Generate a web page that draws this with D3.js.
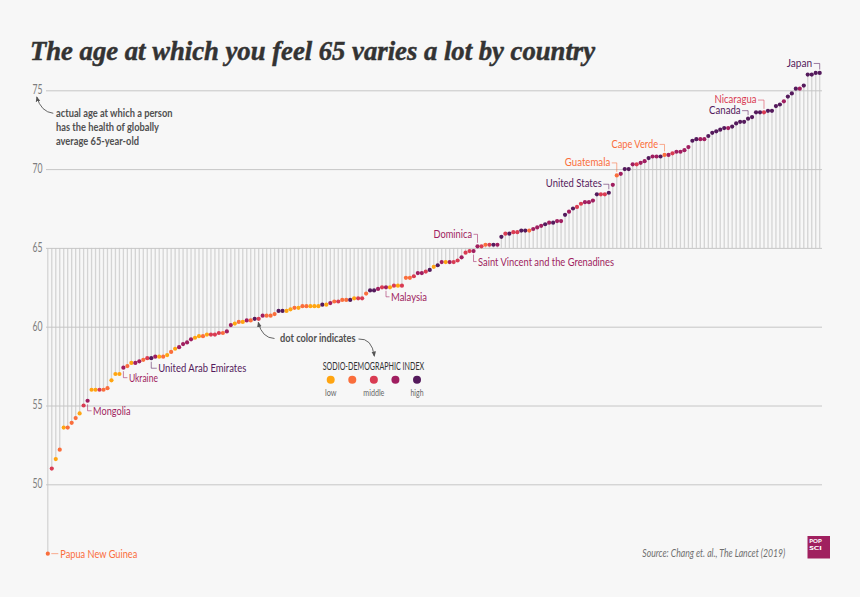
<!DOCTYPE html>
<html>
<head>
<meta charset="utf-8">
<script src="https://cdn.jsdelivr.net/npm/d3@7"></script>
<style>
  html, body { margin: 0; padding: 0; background: #f7f7f7; }
  svg { display: block; }
  text { font-family: Lato, sans-serif; }
</style>
</head>
<body>
<div id="chart"></div>
<script>
// healthy-age equivalent of a 65 year old, countries sorted low to high
const ages = [
  45.6, 51.0, 51.6, 52.2, 53.6, 53.6, 53.9, 54.2, 54.5, 55.0,
  55.3, 56.0, 56.0, 56.0, 56.0, 56.1, 56.6, 57.0, 57.0, 57.4,
  57.5, 57.7, 57.7, 57.8, 57.9, 58.0, 58.0, 58.1, 58.1, 58.1,
  58.2, 58.4, 58.6, 58.7, 58.9, 59.0, 59.2, 59.3, 59.4, 59.4,
  59.5, 59.5, 59.5, 59.6, 59.6, 59.7, 60.1, 60.2, 60.3, 60.3,
  60.4, 60.4, 60.5, 60.5, 60.7, 60.7, 60.7, 60.8, 61.0, 61.0,
  61.0, 61.1, 61.2, 61.2, 61.3, 61.3, 61.3, 61.3, 61.3, 61.4,
  61.4, 61.5, 61.6, 61.6, 61.7, 61.7, 61.7, 61.8, 61.8, 61.8,
  62.1, 62.3, 62.3, 62.4, 62.5, 62.5, 62.5, 62.6, 62.6, 62.6,
  63.1, 63.1, 63.2, 63.4, 63.4, 63.5, 63.6, 63.8, 63.9, 64.1,
  64.1, 64.1, 64.1, 64.2, 64.4, 64.7, 64.8, 64.8, 65.1, 65.1,
  65.2, 65.2, 65.2, 65.2, 65.7, 65.9, 65.9, 66.0, 66.0, 66.1,
  66.1, 66.1, 66.2, 66.3, 66.4, 66.5, 66.6, 66.6, 66.7, 66.7,
  67.1, 67.3, 67.5, 67.6, 67.8, 67.9, 67.9, 68.0, 68.4, 68.4,
  68.4, 68.5, 69.0, 69.6, 69.7, 70.0, 70.0, 70.3, 70.3, 70.4,
  70.5, 70.7, 70.8, 70.8, 70.8, 70.9, 70.9, 71.0, 71.1, 71.1,
  71.2, 71.4, 71.8, 71.9, 71.9, 71.9, 72.1, 72.3, 72.4, 72.5,
  72.6, 72.6, 72.7, 72.9, 73.0, 73.0, 73.2, 73.3, 73.6, 73.6,
  73.6, 73.7, 73.7, 74.0, 74.1, 74.3, 74.6, 74.8, 75.1, 75.1,
  75.3, 76.0, 76.0, 76.1, 76.1
];

// sodio-demographic level of each country, 1 = low, 5 = high
const sdi = [
  2, 3, 1, 2, 1, 2, 2, 2, 1, 3,
  4, 1, 1, 3, 2, 2, 1, 1, 1, 4,
  2, 1, 4, 4, 2, 3, 5, 4, 1, 2,
  1, 2, 1, 4, 4, 4, 4, 1, 1, 2,
  1, 3, 3, 3, 2, 4, 4, 1, 2, 1,
  4, 2, 5, 3, 4, 2, 2, 2, 5, 5,
  1, 1, 2, 1, 2, 2, 1, 1, 1, 5,
  1, 4, 2, 3, 2, 2, 5, 1, 3, 3,
  2, 5, 5, 4, 3, 4, 1, 3, 1, 3,
  2, 2, 3, 4, 4, 3, 5, 1, 5, 4,
  1, 4, 3, 3, 4, 3, 3, 4, 4, 3,
  2, 3, 5, 4, 5, 3, 5, 3, 3, 5,
  5, 2, 4, 4, 4, 5, 4, 5, 4, 4,
  5, 4, 5, 3, 3, 4, 4, 4, 5, 3,
  3, 5, 4, 2, 4, 5, 5, 4, 3, 4,
  4, 5, 4, 4, 5, 2, 4, 3, 4, 4,
  4, 4, 5, 5, 4, 4, 5, 5, 5, 5,
  5, 4, 5, 5, 5, 5, 5, 5, 5, 5,
  3, 5, 5, 5, 5, 4, 5, 5, 5, 4,
  5, 5, 5, 5, 5
];

const yTicks = [50, 55, 60, 65, 70, 75];
const sdiLabels = ["low", "", "middle", "", "high"];
const countries = ["Papua New Guinea", "Mongolia", "Ukraine", "United Arab Emirates", "Malaysia",
  "Saint Vincent and the Grenadines", "Dominica", "United States", "Guatemala", "Cape Verde",
  "Canada", "Nicaragua", "Japan"];
const countryRanks = [0, 10, 19, 26, 85, 107, 108, 141, 143, 155, 176, 180, 194];

const colors = ["#ffa511", "#fa6e3c", "#d93b52", "#a01e60", "#541a5c"];

const width = 860, height = 597;
const x = d3.scaleLinear().domain([0, ages.length - 1]).range([47.8, 819.7]);
const y = d3.scaleLinear().domain([50, 75]).range([484.3, 90.3]);
const sdiColor = d3.scaleOrdinal().domain([1, 2, 3, 4, 5]).range(colors);

const svg = d3.select("#chart").append("svg")
  .attr("width", width)
  .attr("height", height);

svg.append("rect")
  .attr("width", width)
  .attr("height", height)
  .attr("fill", "#f7f7f7");

// text squeezed to a known width, the original face is a condensed one
function fitText(parent, str, px, py, len, size, color, anchor) {
  return parent.append("text")
    .attr("x", px)
    .attr("y", py)
    .attr("dy", "0.35em")
    .attr("text-anchor", anchor || "start")
    .attr("font-size", size)
    .attr("fill", color)
    .attr("textLength", len)
    .attr("lengthAdjust", "spacingAndGlyphs")
    .text(str);
}

svg.append("text")
  .attr("x", 30)
  .attr("y", 60)
  .style("font-family", "'Liberation Serif', serif")
  .attr("font-size", 28)
  .attr("font-weight", 700)
  .attr("font-style", "italic")
  .attr("fill", "#333")
  .attr("stroke", "#333")
  .attr("stroke-width", 0.5)
  .attr("textLength", 565)
  .attr("lengthAdjust", "spacingAndGlyphs")
  .text("The age at which you feel 65 varies a lot by country");

// stems from the 65 line to each dot
svg.append("g")
  .selectAll("line")
  .data(ages)
  .enter()
  .append("line")
  .attr("x1", (d, i) => x(i))
  .attr("x2", (d, i) => x(i))
  .attr("y1", y(65))
  .attr("y2", d => y(d))
  .attr("stroke", "#d4d4d4")
  .attr("stroke-width", 1.3);

const axis = svg.append("g")
  .attr("transform", "translate(46,0)")
  .call(d3.axisLeft(y).tickValues(yTicks).tickSize(-776).tickPadding(3.5));

axis.select(".domain").remove();
axis.selectAll(".tick line")
  .attr("stroke", "#c6c6c6")
  .attr("stroke-width", 1);
axis.selectAll(".tick text")
  .attr("font-size", 13.5)
  .attr("fill", "#7d7d7d")
  .attr("dy", "0.25em")
  .attr("textLength", 10)
  .attr("lengthAdjust", "spacingAndGlyphs");

svg.append("g")
  .selectAll("circle")
  .data(ages)
  .enter()
  .append("circle")
  .attr("cx", (d, i) => x(i))
  .attr("cy", d => y(d))
  .attr("r", 2.1)
  .attr("fill", (d, i) => sdiColor(sdi[i]));

// country labels: side says if the leader leaves the dot upward or downward
const labelSide = ["flat", "below", "below", "below", "below", "below", "above", "above", "above", "above", "above", "above", "above"];
const labelRise = [0, 6.5, 6.5, 6.5, 6, 7, 8.5, 5, 9, 7, 4.5, 8.8, 6];
const labelWidth = [77, 37.5, 29, 88, 36, 136, 38.5, 56, 45.5, 46.5, 31.5, 42, 25.5];
const leaderLen = [7, 4, 4, 5.5, 3.5, 3, 4, 5.5, 5, 5, 6, 6, 6];

const labels = svg.append("g");
countries.forEach((name, k) => {
  const rank = countryRanks[k];
  const px = x(rank), py = y(ages[rank]);
  const color = sdiColor(sdi[rank]);
  let path, ly;
  if (labelSide[k] === "flat") {
    ly = py;
    path = "M" + (px + 3.5) + "," + ly + "H" + (px + 3.5 + leaderLen[k]);
    fitText(labels, name, px + 12.5, ly, labelWidth[k], 12, color);
  } else if (labelSide[k] === "below") {
    ly = py + 3.5 + labelRise[k];
    path = "M" + px + "," + (py + 3.5) + "V" + ly + "H" + (px + leaderLen[k]);
    fitText(labels, name, px + leaderLen[k] + 1.5, ly, labelWidth[k], 12, color);
  } else {
    ly = py - 3.5 - labelRise[k];
    path = "M" + px + "," + (py - 3.5) + "V" + ly + "H" + (px - leaderLen[k]);
    fitText(labels, name, px - leaderLen[k] - 1.5, ly - 1, labelWidth[k], 12, color, "end");
  }
  labels.append("path")
    .attr("d", path)
    .attr("fill", "none")
    .attr("stroke", color)
    .attr("stroke-width", 0.7)
    .attr("opacity", 0.8);
});

// notes and their arrows
svg.append("defs").append("marker")
  .attr("id", "head")
  .attr("viewBox", "0 0 6 6")
  .attr("refX", 5)
  .attr("refY", 3)
  .attr("markerWidth", 6)
  .attr("markerHeight", 6)
  .attr("orient", "auto")
  .append("path")
  .attr("d", "M0,0.5L6,3L0,5.5Z")
  .attr("fill", "#555");

function arrow(x0, y0, cx, cy, x1, y1) {
  const p = d3.path();
  p.moveTo(x0, y0);
  p.quadraticCurveTo(cx, cy, x1, y1);
  svg.append("path")
    .attr("d", p.toString())
    .attr("fill", "none")
    .attr("stroke", "#555")
    .attr("stroke-width", 0.9)
    .attr("marker-end", "url(#head)");
}

const noteLines = ["actual age at which a person", "has the health of globally", "average 65-year-old"];
const noteWidths = [116.5, 103, 83];
noteLines.forEach((line, k) => {
  fitText(svg, line, 56, 112.7 + k * 14.2, noteWidths[k], 11.5, "#505050").attr("font-weight", 700);
});
arrow(53.3, 113.3, 41, 112, 36.8, 97);

fitText(svg, "dot color indicates", 280, 338.3, 75.5, 11.5, "#505050").attr("font-weight", 700);
arrow(274.5, 338.5, 262, 338, 258.3, 322.5);
arrow(358.5, 339, 372, 338, 374.3, 356);

// legend
fitText(svg, "SODIO-DEMOGRAPHIC INDEX", 322.7, 366, 101.5, 10.5, "#333");
const legendX = d3.scalePoint().domain([1, 2, 3, 4, 5]).range([330.7, 417]);
const legend = svg.append("g");
legend.selectAll("circle")
  .data(sdiColor.domain())
  .enter()
  .append("circle")
  .attr("cx", d => legendX(d))
  .attr("cy", 379.7)
  .attr("r", 4)
  .attr("fill", d => sdiColor(d));
const legendLabelWidths = [11.5, 0, 21, 0, 13];
sdiLabels.forEach((label, k) => {
  if (label) fitText(legend, label, legendX(k + 1), 392, legendLabelWidths[k], 10, "#666", "middle");
});

// source and logo
fitText(svg, "Source: Chang et. al., The Lancet (2019)", 642.3, 553.3, 143, 11, "#6f6f6f")
  .attr("font-style", "italic");

svg.append("rect")
  .attr("x", 807.5)
  .attr("y", 536)
  .attr("width", 22.5)
  .attr("height", 22.5)
  .attr("fill", "#a0205f");
["POP", "SCI"].forEach((word, k) => {
  fitText(svg, word, 809.3, 540.5 + k * 7.5, 12.5, 6.2, "#fff").attr("font-weight", 900);
});
</script>
</body>
</html>
